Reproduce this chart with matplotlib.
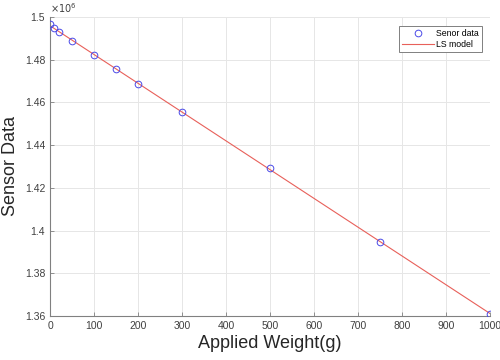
import matplotlib.pyplot as plt
import numpy as np
from matplotlib.ticker import FuncFormatter

weight = [0, 10, 20, 50, 100, 150, 200, 300, 500, 750, 1000]
sensor = [1.4967e6, 1.4946e6, 1.4930e6, 1.4888e6, 1.4822e6, 1.4754e6,
          1.4686e6, 1.4555e6, 1.4293e6, 1.3947e6, 1.3611e6]

plt.rcParams['font.family'] = ['Liberation Sans', 'DejaVu Sans']

# least squares line
coef = np.polyfit(weight, sensor, 1)
xfit = np.array([0, 1000])
yfit = np.polyval(coef, xfit)

fig = plt.figure(figsize=(5, 3.6), dpi=100)
ax = fig.add_axes([0.1, 0.122, 0.88, 0.831])

ax.plot(weight, sensor, 'o', mfc='none', mec='#4a4ae8', ms=4.8, mew=0.7,
        label='Senor data', zorder=3)
ax.plot(xfit, yfit, '-', color='#e8605a', lw=0.8, label='LS model')

ax.set_xlim(0, 1000)
ax.set_ylim(1.36e6, 1.5e6)
ax.set_xticks(np.arange(0, 1001, 100))
ax.set_yticks(np.arange(1.36e6, 1.5e6 + 1, 0.02e6))
ax.yaxis.set_major_formatter(FuncFormatter(lambda v, p: '%g' % round(v / 1e6, 4)))

ax.grid(True, color='#e6e6e6', lw=0.7)
ax.set_axisbelow(True)
for s in ['top', 'right']:
    ax.spines[s].set_visible(False)
for s in ['left', 'bottom']:
    ax.spines[s].set_color('#808080')
    ax.spines[s].set_linewidth(0.8)
ax.tick_params(direction='in', length=3, width=0.6, colors='#808080',
               labelcolor='#404040', labelsize=7.5)

ax.text(0.0, 1.005, r'$\times10^{6}$', transform=ax.transAxes, fontsize=7,
        color='#404040', ha='left', va='bottom')

ax.set_xlabel('Applied Weight(g)', fontsize=13, color='#262626', labelpad=3)
ax.set_ylabel('Sensor Data', fontsize=13, color='#262626', labelpad=4)

leg = ax.legend(loc='upper right', fontsize=6.3, fancybox=False, framealpha=1,
                edgecolor='#808080', borderpad=0.35, handlelength=3.6,
                handletextpad=0.3, borderaxespad=0.2,
                labelspacing=0.3, bbox_to_anchor=(0.986, 0.977))
leg.get_frame().set_linewidth(0.7)

plt.savefig('out.png', dpi=100)
plt.close()
